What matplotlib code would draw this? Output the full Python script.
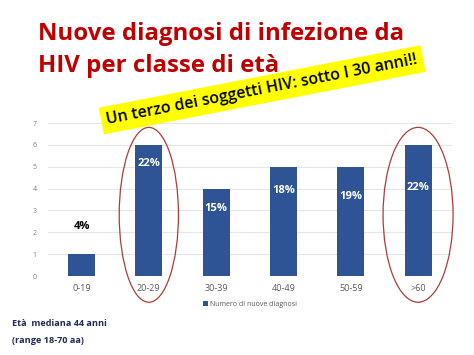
import matplotlib
matplotlib.use("Agg")
import matplotlib.pyplot as plt
from matplotlib.patches import Ellipse

"""data read off the slide"""
classi = ["0-19", "20-29", "30-39", "40-49", "50-59", ">60"]
diagnosi = [1, 6, 4, 5, 5, 6]
percentuali = ["4%", "22%", "15%", "18%", "19%", "22%"]
pos_perc = [2.25, 5.15, 3.1, 3.9, 3.65, 4.05]
cerchiati = [1, 5]

plt.rcParams["font.family"] = ["Open Sans", "DejaVu Sans"]

fig = plt.figure(figsize=(4.74, 3.55), dpi=100)
ax = fig.add_axes([0.101, 0.2225, 0.852, 0.431])

x = list(range(len(classi)))
ax.bar(x, diagnosi, width=0.4, color="#2F5496", zorder=2, label="Numero di nuove diagnosi")
ax.set_xlim(-0.5, 5.5)
ax.set_ylim(0, 7)
ax.set_yticks(range(0, 8))
ax.set_xticks(x)
ax.set_xticklabels(classi)
ax.grid(axis="y", color="#E6E6E6", linewidth=0.8, zorder=0)
for s in ax.spines.values():
    s.set_visible(False)
ax.tick_params(axis="both", length=0)
ax.tick_params(axis="x", labelsize=6.5, labelcolor="#595959", pad=6)
ax.tick_params(axis="y", labelsize=5, labelcolor="#7F7F7F", pad=8)

"""percent labels, first one outside the bar"""
for i in x:
    col = "black" if diagnosi[i] < pos_perc[i] else "white"
    ax.text(i, pos_perc[i], percentuali[i], ha="center", va="center",
            fontsize=8, fontweight="bold", color=col, zorder=3)

"""red ellipses round the highlighted classes"""
for i in cerchiati:
    w = 0.88 if i == 1 else 1.04
    e = Ellipse((i, 2.8), w, 8.0, fill=False, edgecolor="#B03A3A",
                linewidth=0.9, clip_on=False, zorder=4)
    ax.add_patch(e)

leg = ax.legend(loc="upper center", bbox_to_anchor=(0.5, -0.12), frameon=False,
                fontsize=5, handlelength=0.7, handleheight=0.7, handletextpad=0.3,
                labelcolor="#595959")

fig.text(0.08, 0.859, "Nuove diagnosi di infezione da\nHIV per classe di età",
         color="#C00000", fontsize=17.3, fontweight="bold", ha="left", va="center",
         linespacing=1.45)

fig.text(0.553, 0.747, "Un terzo dei soggetti HIV: sotto I 30 anni!!",
         rotation=11, ha="center", va="center", fontsize=11.5, color="black",
         fontweight="semibold",
         bbox=dict(boxstyle="square,pad=0.35", facecolor="#FFFF00", edgecolor="none"))

fig.text(0.025, 0.065, "Età  mediana 44 anni\n(range 18-70 aa)", color="#1F2A55",
         fontsize=6.6, fontweight="bold", ha="left", va="center", linespacing=2.1)

fig.savefig("out.png", dpi=100)
